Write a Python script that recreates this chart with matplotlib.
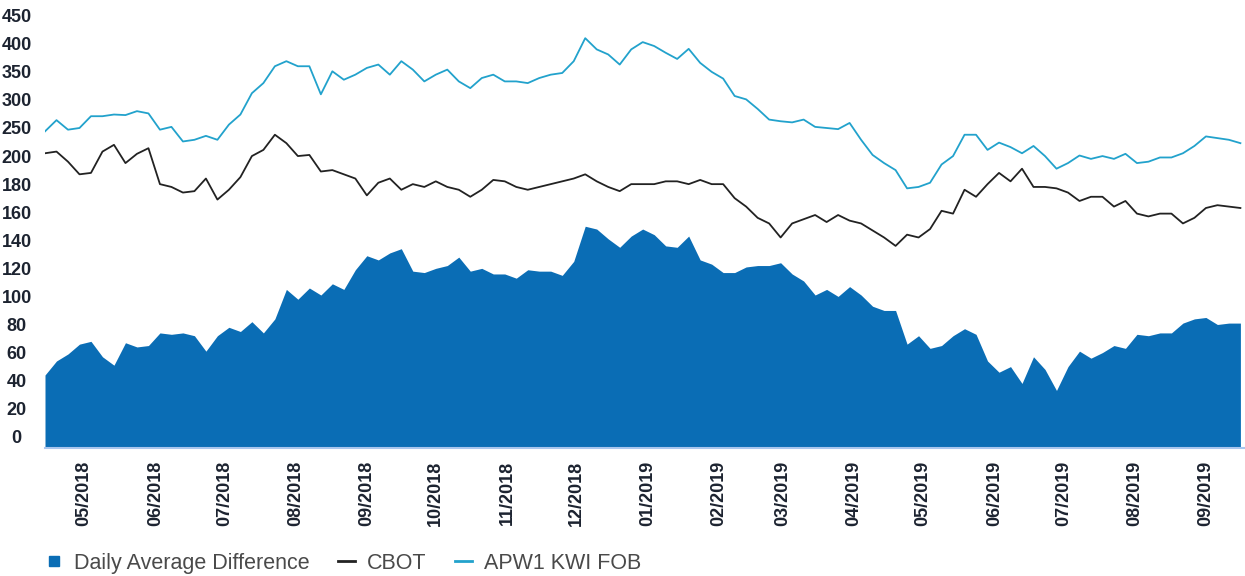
import numpy as np
import pandas as pd
import matplotlib
matplotlib.use("Agg")
import matplotlib.pyplot as plt
import matplotlib.dates as mdates
from matplotlib.lines import Line2D

plt.rcParams['font.family'] = ['Liberation Sans', 'DejaVu Sans']

# observations every 5 days, mid-April 2018 to mid-September 2019
dates = pd.date_range('2018-04-14', periods=105, freq='5D')

apw1 = [244, 264, 247, 250, 271, 271, 274, 273, 280, 276, 247, 252, 226, 229, 236, 229, 256, 274,
        312, 330, 360, 369, 360, 360, 310, 351, 336, 345, 357, 363, 345, 369, 354, 333, 345, 354,
        333, 321, 339,
        345, 333, 333, 330, 339, 345, 348, 369, 410, 390, 381, 363, 390, 403, 396, 384, 373, 391,
        366, 350,
        338, 307, 301, 284, 265, 262, 260, 265, 252, 250, 248, 259, 229, 202, 195, 190, 177, 178,
        181, 194, 200,
        238, 238, 211, 224, 216, 205, 218, 200, 191, 195, 201, 198, 200, 198, 204, 195, 196, 199,
        199, 205, 218, 235, 232, 229, 223]

cbot = [205, 208, 196, 187, 188, 208, 220, 195, 204, 214, 180, 178, 174, 175, 184, 169, 176, 185,
        200, 211, 238, 223, 200, 202, 189, 190, 187, 184, 172, 181, 184, 176, 180, 178, 182, 178,
        176, 171, 176,
        183, 182, 178, 176, 178, 180, 182, 184, 187, 182, 178, 175, 180, 180, 180, 182, 182, 180,
        183, 180,
        180, 170, 164, 156, 152, 142, 152, 155, 158, 153, 158, 154, 152, 147, 142, 136, 144, 142,
        148, 161, 159,
        176, 171, 180, 188, 182, 191, 178, 178, 177, 174, 168, 171, 171, 164, 168, 159, 157, 159,
        159, 152, 156, 163, 165, 164, 163]

daily_diff = [44, 54, 59, 66, 68, 57, 51, 67, 64, 65, 74, 73, 74, 72, 61, 72, 78, 75,
              82, 74, 84, 105, 98, 106, 101, 109, 105, 119, 129, 126, 131, 134, 118, 117, 120, 122,
              128, 118, 120,
              116, 116, 113, 119, 118, 118, 115, 125, 150, 148, 141, 135, 143, 148, 144, 136, 135,
              143, 126, 123,
              117, 117, 121, 122, 122, 124, 116, 111, 101, 105, 100, 107, 101, 93, 90, 90, 66, 72,
              63, 65, 72,
              77, 73, 54, 46, 50, 38, 57, 48, 33, 50, 61, 56, 60, 65, 63, 73, 72, 74, 74, 81, 84,
              85, 80, 81, 81]

y_ticks = [0, 20, 40, 60, 80, 100, 120, 140, 160, 180, 200, 250, 300, 350, 400, 450]


# the value axis is stepped: 20 per grid step up to 200, then 50 per step
def fwd(v):
    return np.interp(v, [-200, 200, 1000], [-10, 10, 26])


def inv(p):
    return np.interp(p, [-10, 10, 26], [-200, 200, 1000])


fig = plt.figure(figsize=(12.45, 5.76), dpi=100)
ax = fig.add_axes([45 / 1245, 1 - 448 / 576, 1200 / 1245, 448 / 576])
ax.set_yscale('function', functions=(fwd, inv))

y_bottom = -8
ax.fill_between(dates, y_bottom, daily_diff, color='#0a6db5', lw=0)
ax.plot(dates, cbot, color='#222222', lw=1.3)
ax.plot(dates, apw1, color='#22a2cc', lw=1.3)

ax.set_ylim(y_bottom, 478)
ax.set_xlim(pd.Timestamp('2018-04-14'), pd.Timestamp('2019-09-18'))

ax.set_yticks(y_ticks)
ax.set_yticklabels([str(t) for t in y_ticks])
ax.yaxis.set_minor_locator(matplotlib.ticker.NullLocator())
ax.tick_params(axis='y', length=0, pad=20.5, labelsize=13, labelcolor='#1c2330')
for lab in ax.get_yticklabels():
    lab.set_horizontalalignment('center')
    lab.set_fontweight('bold')

ax.xaxis.set_major_locator(mdates.MonthLocator())
ax.xaxis.set_major_formatter(mdates.DateFormatter('%m/%Y'))
ax.tick_params(axis='x', length=0, pad=9, labelsize=13, labelcolor='#1c2330', labelrotation=90)
for lab in ax.get_xticklabels():
    lab.set_fontweight('bold')

for s in ['top', 'right', 'left']:
    ax.spines[s].set_visible(False)
ax.spines['bottom'].set_color('#a9c6ee')
ax.spines['bottom'].set_linewidth(1.5)

handles = [
    Line2D([], [], marker='s', color='#0a6db5', ls='none', markersize=7.5),
    Line2D([], [], color='#222222', lw=2),
    Line2D([], [], color='#22a2cc', lw=2),
]
labels = ['Daily Average Difference', 'CBOT', 'APW1 KWI FOB']
fig.legend(handles, labels, loc='lower left', bbox_to_anchor=(26 / 1245, -0.03), ncol=3,
           frameon=False, fontsize=15.5, handlelength=0.8, handletextpad=0.55,
           columnspacing=1.3, labelcolor='#4a4a4a')

fig.savefig('out.png', dpi=100)
